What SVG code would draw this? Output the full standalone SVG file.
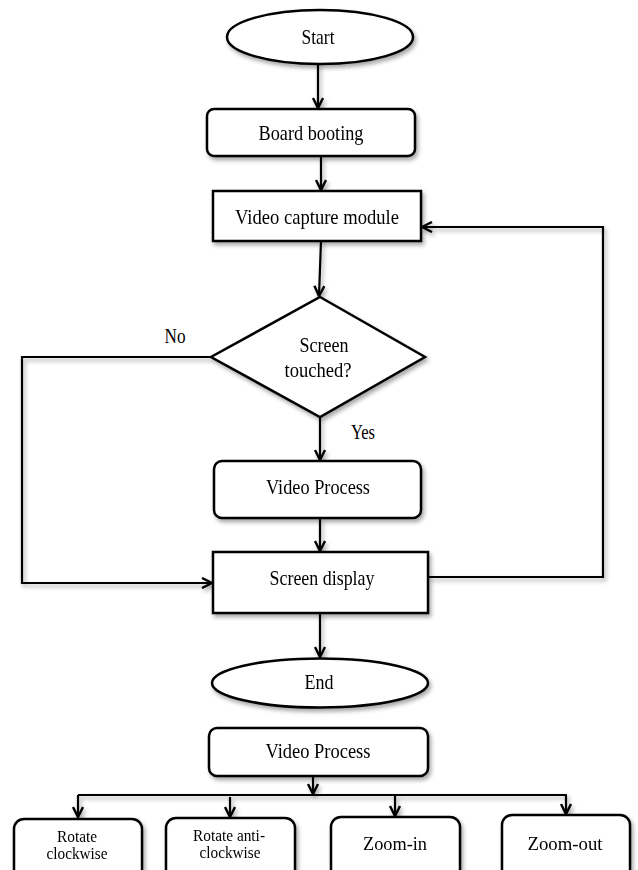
<svg xmlns="http://www.w3.org/2000/svg" width="638" height="870" viewBox="0 0 638 870">
<style>
.shape{fill:#fff;stroke:#000;stroke-width:2.5}
.line{fill:none;stroke:#000;stroke-width:2.2;stroke-linejoin:miter}
.t{font-family:"Liberation Serif","Times New Roman",serif;fill:#000;text-anchor:middle}
.m{font-size:22px}
.s{font-size:16px}
.z{font-size:19px}
</style>
<defs>
<filter id="sh" x="-10%" y="-10%" width="130%" height="140%">
<feDropShadow dx="2" dy="3" stdDeviation="2" flood-color="#000" flood-opacity="0.35"/>
</filter>
<marker id="ar" viewBox="0 0 12 12" refX="11" refY="6" markerWidth="12" markerHeight="12" markerUnits="userSpaceOnUse" orient="auto">
<path d="M1,1 L11,6 L1,11" fill="none" stroke="#000" stroke-width="2.4"/>
</marker>
</defs>
<rect width="638" height="870" fill="#fff"/>
<g id="connectors" filter="url(#sh)">
<path class="line" d="M318,63 L318,108" marker-end="url(#ar)"/>
<path class="line" d="M321,156 L321,190" marker-end="url(#ar)"/>
<path class="line" d="M321,241 L319,296" marker-end="url(#ar)"/>
<path class="line" d="M320,417 L320,460" marker-end="url(#ar)"/>
<path class="line" d="M320,518 L320,551" marker-end="url(#ar)"/>
<path class="line" d="M211,357 L22,357 L22,583 L212,583" marker-end="url(#ar)"/>
<path class="line" d="M428,577 L603,577 L603,227 L422,227" marker-end="url(#ar)"/>
<path class="line" d="M320,613 L320,657" marker-end="url(#ar)"/>
<path class="line" d="M313,776 L313,794" marker-end="url(#ar)"/>
<path class="line" d="M78,795 L567,795"/>
<path class="line" d="M78,795 L78,817" marker-end="url(#ar)"/>
<path class="line" d="M230,797 L230,817" marker-end="url(#ar)"/>
<path class="line" d="M395,795 L395,816" marker-end="url(#ar)"/>
<path class="line" d="M566,795 L566,814" marker-end="url(#ar)"/>
</g>
<g id="start" filter="url(#sh)">
<ellipse class="shape" cx="320" cy="37" rx="93" ry="27"/>
<text class="t m" x="318" y="44" textLength="33" lengthAdjust="spacingAndGlyphs">Start</text>
</g>
<g id="board" filter="url(#sh)">
<rect class="shape" x="207" y="109" width="208" height="47" rx="7"/>
<text class="t m" x="311" y="140" textLength="105" lengthAdjust="spacingAndGlyphs">Board booting</text>
</g>
<g id="capture" filter="url(#sh)">
<rect class="shape" x="213" y="191" width="208" height="50"/>
<text class="t m" x="317" y="224" textLength="164" lengthAdjust="spacingAndGlyphs">Video capture module</text>
</g>
<g id="decision" filter="url(#sh)">
<polygon class="shape" points="320,297 425,357 320,417 211,357"/>
<text class="t m" x="324" y="352" textLength="49" lengthAdjust="spacingAndGlyphs">Screen</text>
<text class="t m" x="318" y="377" textLength="67" lengthAdjust="spacingAndGlyphs">touched?</text>
</g>
<g id="label-no">
<text class="t m" x="175" y="343" textLength="21" lengthAdjust="spacingAndGlyphs">No</text>
</g>
<g id="label-yes">
<text class="t m" x="363" y="439" textLength="24" lengthAdjust="spacingAndGlyphs">Yes</text>
</g>
<g id="process" filter="url(#sh)">
<rect class="shape" x="214" y="461" width="207" height="57" rx="8"/>
<text class="t m" x="318" y="494" textLength="104" lengthAdjust="spacingAndGlyphs">Video Process</text>
</g>
<g id="display" filter="url(#sh)">
<rect class="shape" x="213" y="552" width="215" height="61"/>
<text class="t m" x="322" y="585" textLength="105" lengthAdjust="spacingAndGlyphs">Screen display</text>
</g>
<g id="end" filter="url(#sh)">
<ellipse class="shape" cx="320" cy="683" rx="108" ry="24.5"/>
<text class="t m" x="319" y="689" textLength="29" lengthAdjust="spacingAndGlyphs">End</text>
</g>
<g id="process2" filter="url(#sh)">
<rect class="shape" x="209" y="728" width="219" height="48" rx="8"/>
<text class="t m" x="318" y="758" textLength="105" lengthAdjust="spacingAndGlyphs">Video Process</text>
</g>
<g id="rotate-cw" filter="url(#sh)">
<rect class="shape" x="14" y="819" width="128" height="70" rx="10"/>
<text class="t s" x="77" y="842" textLength="40" lengthAdjust="spacingAndGlyphs">Rotate</text>
<text class="t s" x="77" y="859" textLength="61" lengthAdjust="spacingAndGlyphs">clockwise</text>
</g>
<g id="rotate-acw" filter="url(#sh)">
<rect class="shape" x="166" y="818" width="129" height="70" rx="10"/>
<text class="t s" x="229" y="841" textLength="72" lengthAdjust="spacingAndGlyphs">Rotate anti-</text>
<text class="t s" x="230" y="858" textLength="61" lengthAdjust="spacingAndGlyphs">clockwise</text>
</g>
<g id="zoom-in" filter="url(#sh)">
<rect class="shape" x="331" y="817" width="129" height="70" rx="10"/>
<text class="t z" x="395" y="850" textLength="64" lengthAdjust="spacingAndGlyphs">Zoom-in</text>
</g>
<g id="zoom-out" filter="url(#sh)">
<rect class="shape" x="502" y="815" width="128" height="70" rx="10"/>
<text class="t z" x="565" y="850" textLength="75" lengthAdjust="spacingAndGlyphs">Zoom-out</text>
</g>
</svg>
